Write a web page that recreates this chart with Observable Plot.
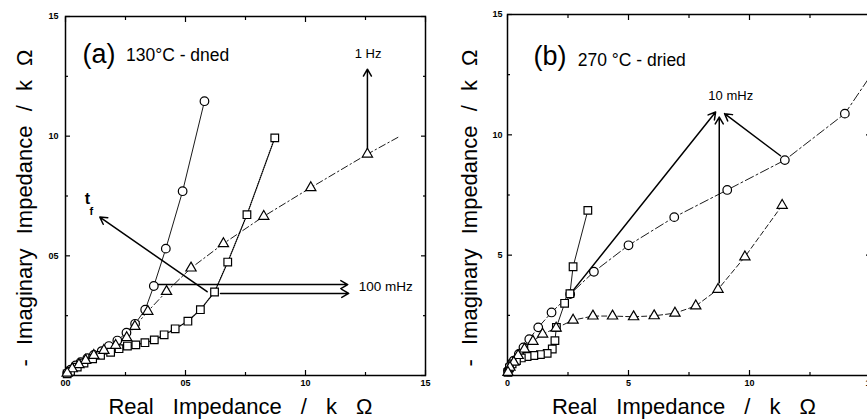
<!DOCTYPE html>
<html>
<head>
<meta charset="utf-8">
<script src="https://cdn.jsdelivr.net/npm/d3@7"></script>
<script src="https://cdn.jsdelivr.net/npm/@observablehq/plot@0.6"></script>
<style>
  body { margin: 0; background: #fff; }
  #wrap { display: flex; width: 867px; height: 419px; overflow: hidden; background: #fff; }
  svg { flex: none; }
</style>
</head>
<body>
<div id="wrap"></div>
<script>
// ---------- Panel (a): 130°C - dried ----------
const aCircX = [0.579,0.488,0.418,0.368,0.332,0.290,0.254,0.216,0.181,0.151,0.118,0.091,0.063,0.042,0.021,0.007];
const aCircY = [1.146,0.770,0.530,0.374,0.275,0.216,0.179,0.146,0.123,0.102,0.086,0.072,0.056,0.042,0.024,0.010];
const aTriX  = [1.258,1.022,0.826,0.658,0.523,0.421,0.343,0.289,0.255,0.209,0.160,0.118,0.084,0.056,0.028,0.007];
const aTriY  = [0.925,0.785,0.665,0.551,0.449,0.351,0.268,0.205,0.158,0.126,0.105,0.084,0.063,0.045,0.028,0.010];
const aTriLineEndX = [1.385];
const aTriLineEndY = [0.995];
const aSqX   = [0.872,0.756,0.676,0.621,0.562,0.510,0.457,0.411,0.370,0.331,0.293,0.258,0.223,0.188,0.146,0.113,0.077,0.049,0.021,0.007];
const aSqY   = [0.993,0.672,0.474,0.349,0.275,0.227,0.195,0.170,0.149,0.137,0.128,0.123,0.112,0.097,0.084,0.070,0.052,0.035,0.018,0.007];
const aTickVals    = [0, 0.5, 1.0, 1.5];
const aXTickLabels = ["00", "05", "10", "15"];
const aYTickVals   = [0.5, 1.0, 1.5];
const aYTickLabels = ["05", "10", "15"];
const aMinorTicks  = [0.25, 0.75, 1.25];
const aArrows = [
  {x1: 1.258, y1: 0.945, x2: 1.258, y2: 1.28},
  {x1: 0.590, y1: 0.350, x2: 0.143, y2: 0.662},
  {x1: 0.382, y1: 0.380, x2: 1.176, y2: 0.380},
  {x1: 0.646, y1: 0.343, x2: 1.180, y2: 0.343}
];
const aLabels = [
  {x: 0.071, y: 1.305, text: "(a)", size: 27, weight: "normal"},
  {x: 0.252, y: 1.312, text: "130°C - dned", size: 17.5, weight: "normal"},
  {x: 1.205, y: 1.325, text: "1 Hz", size: 13, weight: "normal"},
  {x: 1.222, y: 0.355, text: "100 mHz", size: 13.5, weight: "normal"},
  {x: 0.080, y: 0.717, text: "t", size: 16, weight: "bold"},
  {x: 0.100, y: 0.672, text: "f", size: 11, weight: "bold"}
];

// ---------- Panel (b): 270 °C - dried ----------
const bCircX = [15.3,13.94,11.46,9.08,6.89,5.00,3.57,2.59,1.82,1.27,0.90,0.66,0.47,0.26,0.12,0.02];
const bCircY = [12.9,10.88,8.95,7.71,6.58,5.41,4.31,3.38,2.62,2.00,1.51,1.17,0.90,0.62,0.41,0.20];
const bTriX  = [11.35,9.81,8.70,7.78,6.92,6.06,5.21,4.34,3.53,2.71,2.01,1.45,1.05,0.70,0.44,0.26,0.10,0.02];
const bTriY  = [7.07,4.93,3.58,2.89,2.59,2.48,2.44,2.47,2.47,2.30,1.97,1.72,1.42,1.10,0.83,0.55,0.34,0.13];
const bSqX   = [3.32,2.71,2.58,2.36,2.02,1.96,1.85,1.64,1.36,1.09,0.81,0.57,0.37,0.19,0.08,0.02];
const bSqY   = [6.86,4.52,3.40,3.00,2.00,1.45,1.10,0.92,0.87,0.83,0.79,0.73,0.62,0.48,0.32,0.13];
const bXTickVals   = [0, 5, 10, 15];
const bXTickLabels = ["0", "5", "10", "15"];
const bYTickVals   = [5, 10, 15];
const bYTickLabels = ["5", "10", "15"];
const bMinorTicks  = [2.5, 7.5, 12.5];
const bArrows = [
  {x1: 8.75, y1: 3.85, x2: 8.75, y2: 10.74},
  {x1: 2.59, y1: 3.38, x2: 8.60, y2: 10.95},
  {x1: 11.28, y1: 9.13, x2: 8.97, y2: 10.88}
];
const bLabels = [
  {x: 1.07, y: 12.9, text: "(b)", size: 27, weight: "normal"},
  {x: 2.90, y: 12.85, text: "270 °C - dried", size: 17.5, weight: "normal"},
  {x: 8.30, y: 11.45, text: "10 mHz", size: 13, weight: "normal"}
];

const xTitle = "Real Impedance / k Ω";
const yTitle = "- Imaginary Impedance / k Ω";
const FONT = "Liberation Sans, Arial, Helvetica, sans-serif";

function pts(xs, ys) { return xs.map((x, i) => ({x, y: ys[i]})); }

function frameTicks(major, minor, xLabelsVals, xLabels, yLabelVals, yLabels, tickPadX, tickPadY) {
  const common = {stroke: "#000", strokeWidth: 1.2};
  return [
    Plot.axisX(major, {anchor: "bottom", tickSize: 5, dy: -5, text: null, ...common}),
    Plot.axisX(minor, {anchor: "bottom", tickSize: 3, dy: -3, text: null, ...common}),
    Plot.axisX(major, {anchor: "top", tickSize: 5, dy: 5, text: null, ...common}),
    Plot.axisX(minor, {anchor: "top", tickSize: 3, dy: 3, text: null, ...common}),
    Plot.axisY(major, {anchor: "left", tickSize: 5, dx: 5, text: null, ...common}),
    Plot.axisY(minor, {anchor: "left", tickSize: 3, dx: 3, text: null, ...common}),
    Plot.axisY(major, {anchor: "right", tickSize: 5, dx: -5, text: null, ...common}),
    Plot.axisY(minor, {anchor: "right", tickSize: 3, dx: -3, text: null, ...common}),
    Plot.axisX(xLabelsVals, {anchor: "bottom", tickSize: 0, tickPadding: tickPadX, fontSize: 9, fontWeight: "bold",
      tickFormat: (d) => xLabels[xLabelsVals.indexOf(d)], label: null}),
    Plot.axisY(yLabelVals, {anchor: "left", tickSize: 0, tickPadding: tickPadY, fontSize: 9, fontWeight: "bold",
      tickFormat: (d) => yLabels[yLabelVals.indexOf(d)], label: null})
  ];
}

function titles(yDx, yDy, xDx) {
  return [
    Plot.text([xTitle], {frameAnchor: "bottom", text: d => d, dy: 38, dx: xDx, lineAnchor: "bottom",
      textAnchor: "middle", fontSize: 22, fill: "#000"}),
    Plot.text([yTitle], {frameAnchor: "left", text: d => d, rotate: -90, dx: yDx, dy: yDy, lineAnchor: "bottom",
      textAnchor: "middle", fontSize: 22, fill: "#000"})
  ];
}

function labelMarks(labels) {
  return labels.map(l => Plot.text([l], {x: "x", y: "y", text: "text", fontSize: l.size, fontWeight: l.weight,
    textAnchor: "start", lineAnchor: "bottom", fill: "#000"}));
}

const dotStyle = {fill: "#fff", stroke: "#000", strokeWidth: 1.2};

// ---- Panel (a) ----
const aCirc = pts(aCircX, aCircY);
const aTri = pts(aTriX, aTriY);
const aTriLine = pts(aTriLineEndX, aTriLineEndY).concat(aTri);
const aSq = pts(aSqX, aSqY);

const plotA = Plot.plot({
  width: 434, height: 419,
  marginLeft: 65, marginRight: 9, marginTop: 16, marginBottom: 44,
  x: {domain: [0, 1.5], axis: null},
  y: {domain: [0, 1.5], axis: null},
  style: {fontFamily: FONT, background: "#fff", color: "#000", overflow: "visible"},
  marks: [
    Plot.frame({stroke: "#000", strokeWidth: 1.5}),
    ...frameTicks(aTickVals, aMinorTicks, aTickVals, aXTickLabels, aYTickVals, aYTickLabels, 4, 7),
    Plot.line(aCirc, {x: "x", y: "y", stroke: "#000", strokeWidth: 0.9}),
    Plot.line(aSq, {x: "x", y: "y", stroke: "#000", strokeWidth: 1.3, strokeDasharray: "1,1.2"}),
    Plot.line(aTriLine, {x: "x", y: "y", stroke: "#000", strokeWidth: 0.9, strokeDasharray: "7,3,1.5,3"}),
    Plot.arrow(aArrows, {x1: "x1", y1: "y1", x2: "x2", y2: "y2", stroke: "#000", strokeWidth: 1.5, headLength: 8}),
    Plot.dot(aCirc, {x: "x", y: "y", symbol: "circle", r: 4.3, ...dotStyle}),
    Plot.dot(aSq, {x: "x", y: "y", symbol: "square", r: 4.3, ...dotStyle}),
    Plot.dot(aTri, {x: "x", y: "y", symbol: "triangle", r: 3.8, ...dotStyle}),
    ...labelMarks(aLabels),
    ...titles(-34, 12, -5)
  ]
});

// ---- Panel (b) ----
const bCirc = pts(bCircX, bCircY);
const bTri = pts(bTriX, bTriY);
const bSq = pts(bSqX, bSqY);

const plotB = Plot.plot({
  width: 440, height: 419,
  marginLeft: 73, marginRight: 4, marginTop: 14, marginBottom: 44,
  x: {domain: [0, 15], axis: null},
  y: {domain: [0, 15], axis: null},
  style: {fontFamily: FONT, background: "#fff", color: "#000", overflow: "visible"},
  marks: [
    Plot.frame({stroke: "#000", strokeWidth: 1.5}),
    ...frameTicks(bXTickVals, bMinorTicks, bXTickVals, bXTickLabels, bYTickVals, bYTickLabels, 4, 5),
    Plot.line(bCirc, {x: "x", y: "y", stroke: "#000", strokeWidth: 0.9, strokeDasharray: "9,3,2,3"}),
    Plot.line(bSq, {x: "x", y: "y", stroke: "#000", strokeWidth: 0.9}),
    Plot.line(bTri, {x: "x", y: "y", stroke: "#000", strokeWidth: 0.9, strokeDasharray: "5,3"}),
    Plot.arrow(bArrows, {x1: "x1", y1: "y1", x2: "x2", y2: "y2", stroke: "#000", strokeWidth: 1.5, headLength: 8}),
    Plot.dot(bCirc, {x: "x", y: "y", symbol: "circle", r: 4.3, ...dotStyle}),
    Plot.dot(bSq, {x: "x", y: "y", symbol: "square", r: 4.3, ...dotStyle}),
    Plot.dot(bTri, {x: "x", y: "y", symbol: "triangle", r: 3.8, ...dotStyle}),
    ...labelMarks(bLabels),
    ...titles(-31, 13, -5)
  ]
});

const wrap = document.getElementById("wrap");
wrap.appendChild(plotA);
wrap.appendChild(plotB);

// widen word gaps in the axis titles, as in the reference
d3.selectAll("#wrap svg text").each(function () {
  const t = this.textContent;
  if (t === xTitle) this.style.wordSpacing = "13px";
  if (t === yTitle) this.style.wordSpacing = "8px";
});
</script>
</body>
</html>
